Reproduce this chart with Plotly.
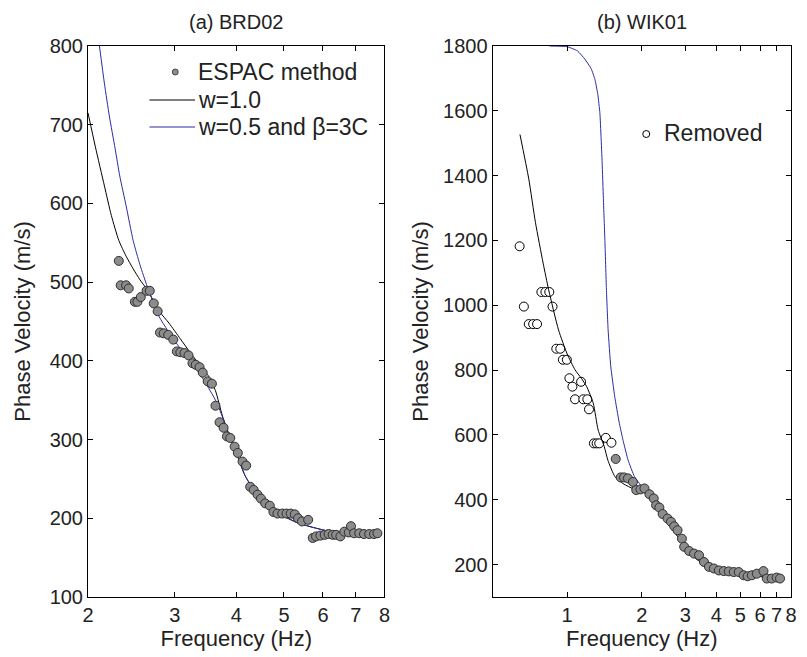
import math
import plotly.graph_objects as go

# ---------------- (a) BRD02 ----------------
brd_f = [2.31, 2.33, 2.39, 2.42, 2.49, 2.52, 2.56, 2.63, 2.67, 2.72, 2.77, 2.80, 2.85, 2.91,
         2.98, 3.03, 3.08, 3.14, 3.20, 3.26, 3.31, 3.37, 3.42, 3.50, 3.57, 3.63, 3.70, 3.77,
         3.83, 3.89, 3.97, 4.03, 4.12, 4.19, 4.27, 4.34, 4.42, 4.49, 4.58, 4.68, 4.76, 4.85,
         4.96, 5.06, 5.16, 5.26, 5.34, 5.44, 5.60,
         5.72, 5.81, 5.93, 6.05, 6.16, 6.28, 6.38, 6.51, 6.63, 6.77, 6.84, 6.94, 7.11, 7.27,
         7.45, 7.62, 7.74]
brd_v = [527, 496, 496, 492, 475, 475, 481, 489, 489, 473, 463, 436, 435, 433,
         427, 412, 411, 410, 407, 397, 395, 392, 385, 374, 371, 343, 322, 315,
         304, 302, 291, 283, 272, 267, 240, 236, 230, 225, 219, 216, 208, 206,
         206, 206, 206, 205, 200, 196, 198,
         175, 177, 178, 179, 180, 179, 179, 177, 183, 182, 190, 181, 181, 180,
         180, 180, 181]

brd_w1_f = [2.0, 2.07, 2.16, 2.23, 2.31, 2.39, 2.47, 2.55, 2.64, 2.8, 2.92, 3.08, 3.23, 3.4,
            3.52, 3.63, 3.75, 3.87, 4.0, 4.17, 4.43, 4.78, 5.0, 5.34, 6.12, 6.94, 7.8]
brd_w1_v = [715, 672, 622, 585, 553, 533, 517, 503, 490, 462, 448, 428, 410, 392,
            380, 362, 330, 306, 283, 254, 228, 209, 203, 194, 184, 180, 176]

brd_w05_f = [2.11, 2.16, 2.21, 2.27, 2.32, 2.39, 2.47, 2.55, 2.64, 2.79, 3.06, 3.3, 3.63,
             3.77, 3.87, 4.0, 4.17, 4.43, 4.78, 5.0, 5.34, 6.12, 6.94, 7.8]
brd_w05_v = [800, 752, 711, 670, 635, 597, 553, 522, 494, 456, 418, 393, 350,
             325, 304, 284, 254, 228, 209, 202, 194, 184, 180, 176]

# ---------------- (b) WIK01 ----------------
wik_rm_f = [0.643, 0.669, 0.700, 0.729, 0.756, 0.787, 0.817, 0.847, 0.873, 0.904, 0.938,
            0.961, 0.997, 1.021, 1.050, 1.138, 1.076, 1.162, 1.206, 1.225, 1.282, 1.315,
            1.347, 1.432, 1.509]
wik_rm_v = [1182, 996, 942, 942, 942, 1041, 1041, 1041, 996, 866, 866,
            832, 832, 775, 749, 764, 710, 710, 710, 679, 574, 574,
            574, 591, 576]

wik_f = [1.57, 1.644, 1.695, 1.759, 1.842, 1.900, 1.977, 2.051, 2.148, 2.235, 2.285, 2.355,
         2.428, 2.542, 2.624, 2.704, 2.788, 2.904, 2.965, 3.105, 3.251, 3.404, 3.565, 3.733,
         3.908, 4.093, 4.285, 4.487, 4.699, 4.920, 5.152, 5.346, 5.562, 5.824, 6.194, 6.387,
         6.687, 7.002, 7.225]
wik_v = [526, 469, 469, 466, 455, 430, 432, 435, 417, 404, 383, 376,
         356, 342, 332, 318, 306, 280, 255, 242, 234, 229, 208, 193,
         188, 182, 180, 179, 177, 177, 167, 164, 167, 172, 180, 157,
         157, 160, 157]

wik_w1_f = [0.645, 0.70, 0.745, 0.80, 0.842, 0.923, 1.0, 1.076, 1.14, 1.199, 1.274, 1.334,
            1.41, 1.46, 1.56, 1.68, 1.87, 2.02, 2.2, 2.39, 2.6, 2.88, 3.0, 3.35, 3.79, 4.3,
            4.84, 5.5, 6.2, 7.22]
wik_w1_v = [1527, 1390, 1255, 1130, 1048, 924, 850, 801, 775, 749, 698, 615,
            565, 522, 471, 450, 432, 425, 400, 358, 320, 272, 252, 215, 190, 178,
            172, 166, 162, 157]

wik_w05_f = [0.85, 1.0, 1.1, 1.18, 1.25, 1.294, 1.33, 1.355, 1.37, 1.384, 1.40, 1.41, 1.42,
             1.44, 1.463, 1.5, 1.556, 1.62, 1.68, 1.76, 1.87, 2.05, 2.2, 2.39, 2.6, 2.88,
             3.0, 3.35, 3.79, 4.3, 4.84, 5.5, 6.2, 7.22]
wik_w05_v = [1800, 1798, 1785, 1759, 1730, 1697, 1650, 1594, 1520, 1440, 1330, 1264, 1200,
             1050, 924, 810, 718, 640, 584, 523, 471, 430, 400, 358, 320, 272,
             252, 215, 190, 178, 172, 166, 162, 157]

left_xticks = [2, 3, 4, 5, 6, 7, 8]
left_yticks = [100, 200, 300, 400, 500, 600, 700, 800]
right_xticks = [1, 2, 3, 4, 5, 6, 7, 8]
right_yticks = [200, 400, 600, 800, 1000, 1200, 1400, 1600, 1800]

# ---------------- figure ----------------
W, H = 807, 657
ML, MR, MT, MB = 88, 10, 46, 60
PW, PH = W - ML - MR, H - MT - MB
FONT = "Liberation Sans, Arial, sans-serif"
BLUE = "#2b2ba0"
GREY = "#8c8c8c"
EDGE = "#2e2e2e"
TXT = "#222222"


def px(x):
    return (x - ML) / PW


def py(y):
    return (H - MB - y) / PH


def curve(xs, ys, color, name, xa, ya, smooth=0.6):
    return go.Scatter(x=xs, y=ys, mode="lines", name=name,
                      line=dict(color=color, width=1, shape="spline", smoothing=smooth),
                      xaxis=xa, yaxis=ya)


fig = go.Figure()
fig.add_trace(curve(brd_w1_f, brd_w1_v, "black", "w=1.0", "x", "y"))
fig.add_trace(curve(brd_w05_f, brd_w05_v, BLUE, "w=0.5 and β=3C", "x", "y"))
fig.add_trace(go.Scatter(x=brd_f, y=brd_v, mode="markers", name="ESPAC method",
                         marker=dict(size=9, color=GREY, line=dict(color=EDGE, width=1)),
                         xaxis="x", yaxis="y"))

fig.add_trace(go.Scatter(x=wik_rm_f, y=wik_rm_v, mode="markers", name="Removed",
                         marker=dict(size=9, color="white", line=dict(color="black", width=1)),
                         xaxis="x2", yaxis="y2"))
fig.add_trace(curve(wik_w1_f, wik_w1_v, "black", "w=1.0", "x2", "y2"))
fig.add_trace(curve(wik_w05_f, wik_w05_v, BLUE, "w=0.5 and β=3C", "x2", "y2", smooth=0.4))
fig.add_trace(go.Scatter(x=wik_f, y=wik_v, mode="markers", name="ESPAC method",
                         marker=dict(size=9, color=GREY, line=dict(color=EDGE, width=1)),
                         xaxis="x2", yaxis="y2"))

axis_common = dict(showgrid=False, zeroline=False, showline=True, linecolor="black",
                   linewidth=1, mirror="ticks", ticks="inside", ticklen=5, tickcolor="black",
                   tickfont=dict(family=FONT, size=20, color=TXT))

d1 = [0, px(387)]
d2 = [px(496), 1]

fig.update_layout(
    width=W, height=H, margin=dict(l=ML, r=MR, t=MT, b=MB),
    paper_bgcolor="white", plot_bgcolor="white", showlegend=False,
    font=dict(family=FONT, color=TXT),
    xaxis=dict(axis_common, type="log", domain=d1,
               range=[math.log10(2), math.log10(8)],
               tickvals=left_xticks, ticktext=[str(t) for t in left_xticks],
               title=dict(text="Frequency (Hz)", font=dict(size=22), standoff=2),
               anchor="y"),
    yaxis=dict(axis_common, range=[100, 800], tickvals=left_yticks,
               title=dict(text="Phase Velocity (m/s)", font=dict(size=22), standoff=12),
               anchor="x"),
    xaxis2=dict(axis_common, type="log", domain=d2,
                range=[math.log10(0.5), math.log10(8)],
                tickvals=right_xticks, ticktext=[str(t) for t in right_xticks],
                title=dict(text="Frequency (Hz)", font=dict(size=22), standoff=2),
                anchor="y2"),
    yaxis2=dict(axis_common, range=[100, 1800], tickvals=right_yticks,
                title=dict(text="Phase Velocity (m/s)", font=dict(size=22), standoff=8),
                anchor="x2"),
)

# panel titles
for txt, dom in (("(a) BRD02", d1), ("(b) WIK01", d2)):
    fig.add_annotation(text=txt, x=(dom[0] + dom[1]) / 2, y=py(22), xref="paper",
                       yref="paper", showarrow=False, font=dict(size=20, family=FONT),
                       xanchor="center", yanchor="middle")

# legend (a)
fig.add_shape(type="circle", xref="paper", yref="paper", xsizemode="pixel",
              ysizemode="pixel", xanchor=px(176), yanchor=py(72), x0=-3, x1=3, y0=-3, y1=3,
              fillcolor=GREY, line=dict(color=EDGE, width=0.8))
fig.add_shape(type="line", xref="paper", yref="paper", x0=px(150), x1=px(196),
              y0=py(100), y1=py(100), line=dict(color="black", width=1))
fig.add_shape(type="line", xref="paper", yref="paper", x0=px(150), x1=px(196),
              y0=py(127), y1=py(127), line=dict(color=BLUE, width=1))
for txt, yy in (("ESPAC method", 72), ("w=1.0", 100), ("w=0.5 and β=3C", 127)):
    fig.add_annotation(text=txt, x=px(197), y=py(yy), xref="paper", yref="paper",
                       showarrow=False, xanchor="left", yanchor="middle",
                       font=dict(size=23, family=FONT))

# legend (b)
fig.add_shape(type="circle", xref="paper", yref="paper", xsizemode="pixel",
              ysizemode="pixel", xanchor=px(651), yanchor=py(134), x0=-3.5, x1=3.5,
              y0=-3.5, y1=3.5, fillcolor="white", line=dict(color="black", width=1))
fig.add_annotation(text="Removed", x=px(667), y=py(133), xref="paper", yref="paper",
                   showarrow=False, xanchor="left", yanchor="middle",
                   font=dict(size=23, family=FONT))

fig.write_html("out.html")
